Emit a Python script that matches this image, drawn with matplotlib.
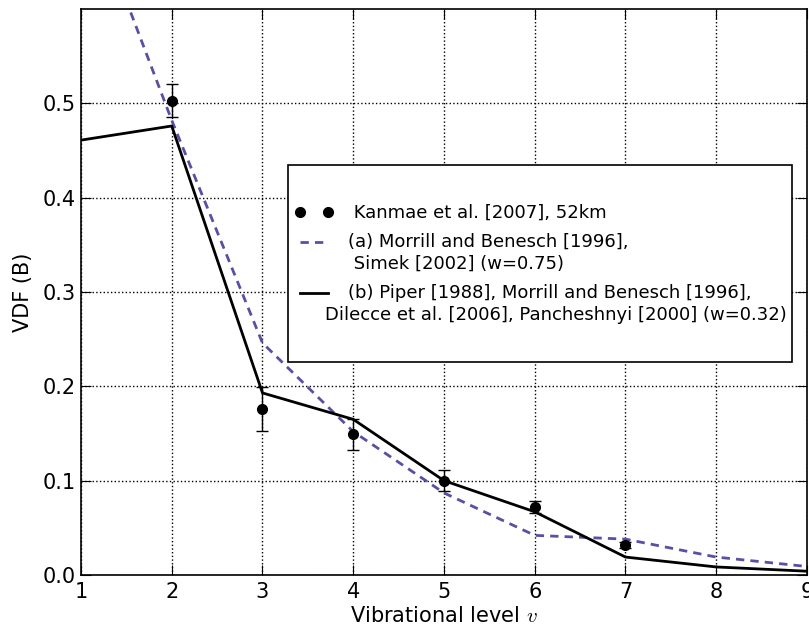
import matplotlib
matplotlib.use("Agg")
import matplotlib.pyplot as plt
from matplotlib.patches import Rectangle
from matplotlib.legend_handler import HandlerLine2D

plt.rcParams['mathtext.fontset'] = 'cm'
plt.rcParams['font.family'] = ['DejaVu Sans']

# Data
levels = [1, 2, 3, 4, 5, 6, 7, 8, 9]
model_a = [0.735, 0.482, 0.246, 0.152, 0.087, 0.042, 0.038, 0.019, 0.009]
model_b = [0.461, 0.476, 0.193, 0.165, 0.100, 0.067, 0.019, 0.0085, 0.004]
obs_levels = [2, 3, 4, 5, 6, 7]
obs_vals = [0.503, 0.176, 0.149, 0.100, 0.072, 0.032]
obs_err = [0.018, 0.023, 0.016, 0.011, 0.006, 0.003]

label_obs = "     Kanmae et al. [2007], 52km"
label_a = "    (a) Morrill and Benesch [1996],\n     Simek [2002] (w=0.75)"
label_b = "    (b) Piper [1988], Morrill and Benesch [1996],\nDilecce et al. [2006], Pancheshnyi [2000] (w=0.32)"

fig = plt.figure(figsize=(8.09, 6.26), dpi=100)
ax = fig.add_axes([0.1001, 0.0815, 0.8974, 0.9041])

ax.errorbar(obs_levels, obs_vals, yerr=obs_err, fmt='none', ecolor='black',
            elinewidth=1, capsize=4, capthick=1, zorder=3)
h_obs, = ax.plot(obs_levels, obs_vals, 'o', color='black', markersize=7, zorder=3)
h_a, = ax.plot(levels, model_a, color='#5a4fa2', lw=2, dashes=(3, 2.2), zorder=2)
h_b, = ax.plot(levels, model_b, color='black', lw=2, zorder=2)

ax.set_xlim(1, 9)
ax.set_ylim(0, 0.6)
ax.set_yticks([0.0, 0.1, 0.2, 0.3, 0.4, 0.5])
ax.set_xticks(levels)
ax.grid(True, linestyle=':', color='black', linewidth=1)
ax.tick_params(direction='in', top=True, right=True, length=7, labelsize=15)
ax.tick_params(axis='x', pad=5)
ax.tick_params(axis='y', pad=3.5)
for s in ax.spines.values():
    s.set_linewidth(1.2)

ax.set_xlabel(r"Vibrational level $v$", fontsize=15, labelpad=3)
ax.set_ylabel("VDF (B)", fontsize=15, labelpad=7)

ax.add_patch(Rectangle((0.2851, 0.3763), 0.9793 - 0.2851, 0.7244 - 0.3763,
                       transform=ax.transAxes, facecolor='white', edgecolor='black',
                       lw=1.2, zorder=4))

hmap = {h: HandlerLine2D(marker_pad=0, numpoints=2) for h in (h_obs, h_a, h_b)}
leg = ax.legend([h_obs, h_a, h_b], [label_obs, label_a, label_b],
                loc='upper left', bbox_to_anchor=(0.3017, 0.6557),
                frameon=False, numpoints=2, fontsize=13, borderpad=0,
                borderaxespad=0, handlelength=1.55, handletextpad=-0.17,
                labelspacing=0.6, handler_map=hmap)
leg.set_zorder(5)
for t in leg.get_texts():
    t.set_linespacing(1.3)
# align handles of two-line entries with their first line (points)
for hnd in leg.legend_handles[1:]:
    yd = hnd.get_ydata()
    hnd.set_ydata([y + 8.0 for y in yd])

fig.savefig("out.png", dpi=100)
